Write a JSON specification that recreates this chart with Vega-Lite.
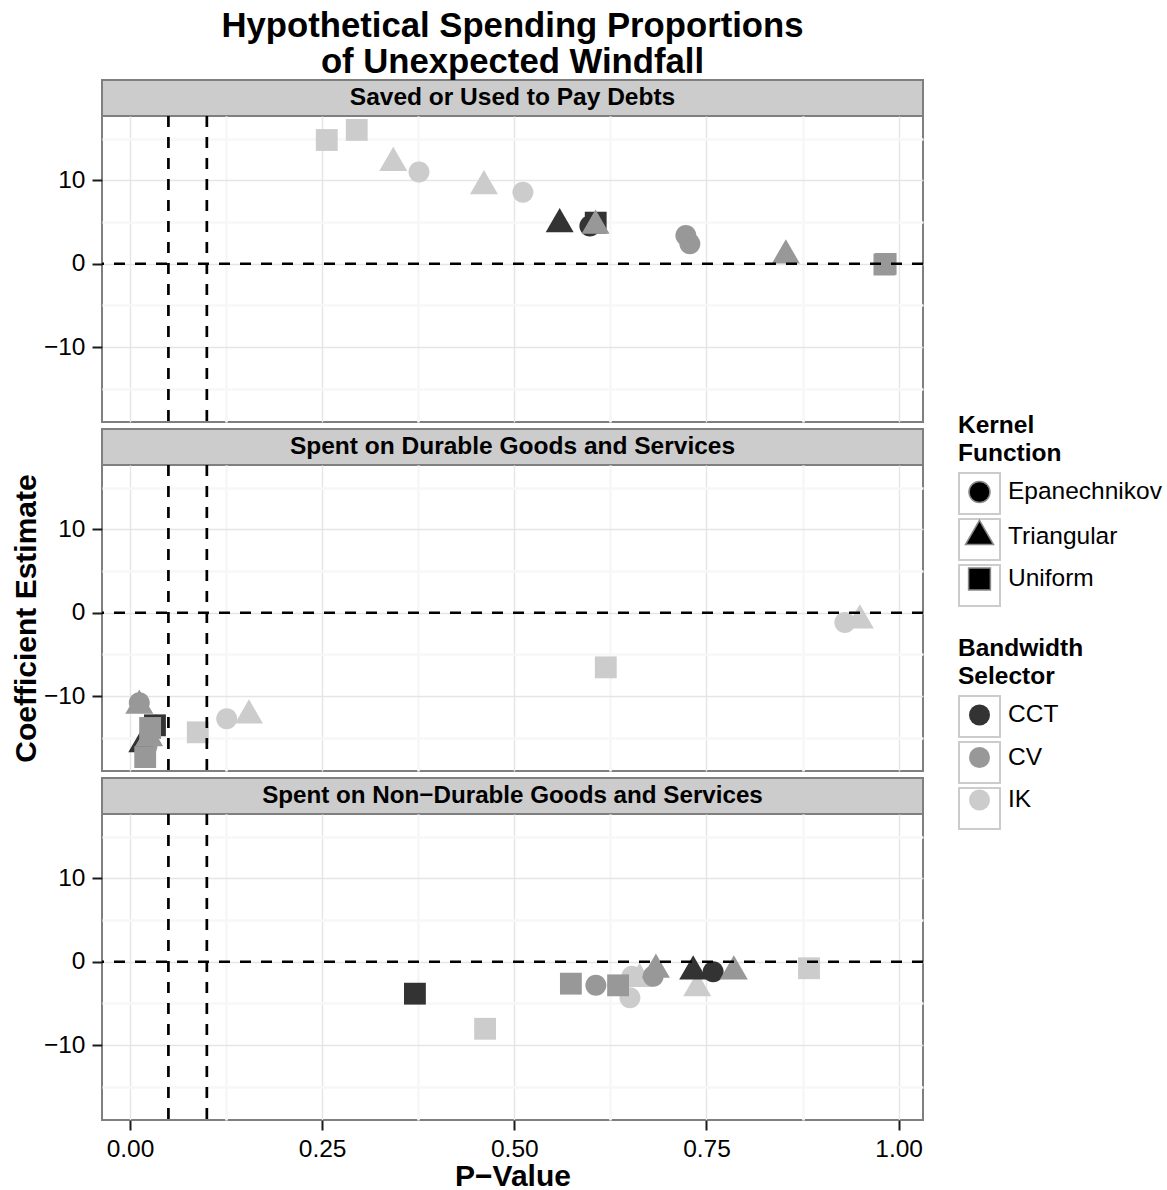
{
  "$schema": "https://vega.github.io/schema/vega-lite/v6.json",
  "background": "white",
  "padding": {"left": 10, "top": 8, "right": 5, "bottom": 5},
  "datasets": {
    "outcomes": [
      {"outcome": "Saved or Used to Pay Debts"},
      {"outcome": "Spent on Durable Goods and Services"},
      {"outcome": "Spent on Non−Durable Goods and Services"}
    ],
    "estimates": [
      {"outcome": "Saved or Used to Pay Debts", "bandwidth": "IK", "kernel": "Uniform", "p_value": 0.256, "estimate": 14.84},
      {"outcome": "Saved or Used to Pay Debts", "bandwidth": "IK", "kernel": "Uniform", "p_value": 0.295, "estimate": 16.05},
      {"outcome": "Saved or Used to Pay Debts", "bandwidth": "IK", "kernel": "Triangular", "p_value": 0.3425, "estimate": 12.1},
      {"outcome": "Saved or Used to Pay Debts", "bandwidth": "IK", "kernel": "Epanechnikov", "p_value": 0.376, "estimate": 11.01},
      {"outcome": "Saved or Used to Pay Debts", "bandwidth": "IK", "kernel": "Triangular", "p_value": 0.4605, "estimate": 9.3},
      {"outcome": "Saved or Used to Pay Debts", "bandwidth": "IK", "kernel": "Epanechnikov", "p_value": 0.5112, "estimate": 8.57},
      {"outcome": "Saved or Used to Pay Debts", "bandwidth": "CCT", "kernel": "Triangular", "p_value": 0.559, "estimate": 4.74},
      {"outcome": "Saved or Used to Pay Debts", "bandwidth": "CCT", "kernel": "Epanechnikov", "p_value": 0.5983, "estimate": 4.52},
      {"outcome": "Saved or Used to Pay Debts", "bandwidth": "CCT", "kernel": "Uniform", "p_value": 0.6059, "estimate": 4.93},
      {"outcome": "Saved or Used to Pay Debts", "bandwidth": "CV", "kernel": "Triangular", "p_value": 0.6057, "estimate": 4.58},
      {"outcome": "Saved or Used to Pay Debts", "bandwidth": "CV", "kernel": "Epanechnikov", "p_value": 0.7232, "estimate": 3.4},
      {"outcome": "Saved or Used to Pay Debts", "bandwidth": "CV", "kernel": "Epanechnikov", "p_value": 0.7284, "estimate": 2.4},
      {"outcome": "Saved or Used to Pay Debts", "bandwidth": "CV", "kernel": "Triangular", "p_value": 0.8533, "estimate": 1.01},
      {"outcome": "Saved or Used to Pay Debts", "bandwidth": "CV", "kernel": "Uniform", "p_value": 0.9815, "estimate": -0.1},
      {"outcome": "Saved or Used to Pay Debts", "bandwidth": "CV", "kernel": "Uniform", "p_value": 0.9831, "estimate": -0.02},

      {"outcome": "Spent on Durable Goods and Services", "bandwidth": "CCT", "kernel": "Epanechnikov", "p_value": 0.0325, "estimate": -13.5},
      {"outcome": "Spent on Durable Goods and Services", "bandwidth": "CV", "kernel": "Epanechnikov", "p_value": 0.022, "estimate": -16.0},
      {"outcome": "Spent on Durable Goods and Services", "bandwidth": "CCT", "kernel": "Triangular", "p_value": 0.016, "estimate": -15.76},
      {"outcome": "Spent on Durable Goods and Services", "bandwidth": "CCT", "kernel": "Uniform", "p_value": 0.0325, "estimate": -13.5},
      {"outcome": "Spent on Durable Goods and Services", "bandwidth": "CV", "kernel": "Triangular", "p_value": 0.0121, "estimate": -11.14},
      {"outcome": "Spent on Durable Goods and Services", "bandwidth": "CV", "kernel": "Epanechnikov", "p_value": 0.0121, "estimate": -10.79},
      {"outcome": "Spent on Durable Goods and Services", "bandwidth": "CV", "kernel": "Uniform", "p_value": 0.0262, "estimate": -13.82},
      {"outcome": "Spent on Durable Goods and Services", "bandwidth": "CV", "kernel": "Triangular", "p_value": 0.0249, "estimate": -15.04},
      {"outcome": "Spent on Durable Goods and Services", "bandwidth": "CV", "kernel": "Uniform", "p_value": 0.0198, "estimate": -17.31},
      {"outcome": "Spent on Durable Goods and Services", "bandwidth": "IK", "kernel": "Uniform", "p_value": 0.0882, "estimate": -14.34},
      {"outcome": "Spent on Durable Goods and Services", "bandwidth": "IK", "kernel": "Epanechnikov", "p_value": 0.1258, "estimate": -12.72},
      {"outcome": "Spent on Durable Goods and Services", "bandwidth": "IK", "kernel": "Triangular", "p_value": 0.1548, "estimate": -12.31},
      {"outcome": "Spent on Durable Goods and Services", "bandwidth": "IK", "kernel": "Uniform", "p_value": 0.619, "estimate": -6.55},
      {"outcome": "Spent on Durable Goods and Services", "bandwidth": "IK", "kernel": "Epanechnikov", "p_value": 0.93, "estimate": -1.18},
      {"outcome": "Spent on Durable Goods and Services", "bandwidth": "IK", "kernel": "Triangular", "p_value": 0.9495, "estimate": -0.93},

      {"outcome": "Spent on Non−Durable Goods and Services", "bandwidth": "CCT", "kernel": "Uniform", "p_value": 0.3707, "estimate": -3.83},
      {"outcome": "Spent on Non−Durable Goods and Services", "bandwidth": "IK", "kernel": "Uniform", "p_value": 0.462, "estimate": -8.04},
      {"outcome": "Spent on Non−Durable Goods and Services", "bandwidth": "IK", "kernel": "Triangular", "p_value": 0.663, "estimate": -2.07},
      {"outcome": "Spent on Non−Durable Goods and Services", "bandwidth": "IK", "kernel": "Epanechnikov", "p_value": 0.6504, "estimate": -4.33},
      {"outcome": "Spent on Non−Durable Goods and Services", "bandwidth": "IK", "kernel": "Epanechnikov", "p_value": 0.653, "estimate": -1.73},
      {"outcome": "Spent on Non−Durable Goods and Services", "bandwidth": "IK", "kernel": "Triangular", "p_value": 0.738, "estimate": -3.16},
      {"outcome": "Spent on Non−Durable Goods and Services", "bandwidth": "IK", "kernel": "Uniform", "p_value": 0.8834, "estimate": -0.78},
      {"outcome": "Spent on Non−Durable Goods and Services", "bandwidth": "CV", "kernel": "Uniform", "p_value": 0.5736, "estimate": -2.63},
      {"outcome": "Spent on Non−Durable Goods and Services", "bandwidth": "CV", "kernel": "Epanechnikov", "p_value": 0.6061, "estimate": -2.81},
      {"outcome": "Spent on Non−Durable Goods and Services", "bandwidth": "CV", "kernel": "Uniform", "p_value": 0.635, "estimate": -2.83},
      {"outcome": "Spent on Non−Durable Goods and Services", "bandwidth": "CV", "kernel": "Epanechnikov", "p_value": 0.6807, "estimate": -1.73},
      {"outcome": "Spent on Non−Durable Goods and Services", "bandwidth": "CV", "kernel": "Triangular", "p_value": 0.6842, "estimate": -0.95},
      {"outcome": "Spent on Non−Durable Goods and Services", "bandwidth": "CCT", "kernel": "Triangular", "p_value": 0.7327, "estimate": -1.15},
      {"outcome": "Spent on Non−Durable Goods and Services", "bandwidth": "CCT", "kernel": "Epanechnikov", "p_value": 0.7587, "estimate": -1.2},
      {"outcome": "Spent on Non−Durable Goods and Services", "bandwidth": "CV", "kernel": "Triangular", "p_value": 0.7856, "estimate": -1.15}
    ]
  },
  "spacing": 3,
  "vconcat": [
    {
      "bounds": "flush",
      "spacing": 0,
      "vconcat": [
        {
          "title": {"text": ["Hypothetical Spending Proportions", "of Unexpected Windfall"], "fontSize": 34.7, "fontWeight": "bold", "lineHeight": 36, "anchor": "middle", "offset": -1, "color": "#000"},
          "width": 821, "height": 36,
          "view": {"fill": "#cccccc", "stroke": "#7f7f7f", "strokeWidth": 2},
          "data": {"name": "outcomes"},
          "transform": [{"filter": "datum.outcome === 'Saved or Used to Pay Debts'"}],
          "mark": {"type": "text", "fontSize": 24.5, "fontWeight": "bold", "color": "#000"},
          "encoding": {"text": {"field": "outcome"}}
        },
        {
          "width": 821, "height": 306,
          "view": {"fill": "white", "stroke": "#7f7f7f", "strokeWidth": 2},
          "layer": [
            {
              "data": {"name": "estimates"},
              "transform": [{"filter": "datum.outcome === 'Saved or Used to Pay Debts'"}],
              "mark": {"type": "point", "size": 0, "opacity": 1},
              "encoding": {
                "x": {"field": "p_value", "type": "quantitative"},
                "y": {"field": "estimate", "type": "quantitative"},
                "fill": {"field": "kernel", "type": "nominal",
                  "scale": {"domain": ["Uniform", "Triangular", "Epanechnikov"], "range": ["transparent", "transparent", "transparent"]},
                  "legend": {"title": null, "labelExpr": "''", "orient": "none", "legendX": 856, "legendY": 392,
                    "symbolType": "square", "symbolSize": 1681, "symbolStrokeWidth": 2, "symbolStrokeColor": "#cccccc", "rowPadding": -6,
                    "encoding": {"symbols": {"x": {"value": 21.5}, "y": {"value": 21.5}}}}},
                "stroke": {"field": "bandwidth", "type": "nominal",
                  "scale": {"domain": ["IK", "CV", "CCT"], "range": ["#cccccc", "#cccccc", "#cccccc"]},
                  "legend": {"title": null, "labelExpr": "''", "orient": "none", "legendX": 856, "legendY": 615,
                    "symbolType": "square", "symbolSize": 1681, "symbolStrokeWidth": 2, "symbolFillColor": "transparent", "rowPadding": -6,
                    "encoding": {"symbols": {"x": {"value": 21.5}, "y": {"value": 21.5}}}}}
              }
            },
            {
              "data": {"name": "estimates"},
              "transform": [{"filter": "datum.outcome === 'Saved or Used to Pay Debts'"}],
              "mark": {"type": "point", "filled": true, "opacity": 1, "size": 784, "strokeWidth": 0},
              "encoding": {
                "x": {"field": "p_value", "type": "quantitative",
                  "scale": {"domain": [-0.0364, 1.0317], "nice": false, "zero": false},
                  "axis": {"title": null, "values": [0, 0.125, 0.25, 0.375, 0.5, 0.625, 0.75, 0.875, 1], "labels": false, "ticks": false, "domain": false,
                    "gridColor": {"condition": {"test": "datum.value * 8 % 2 == 1", "value": "#f7f7f7"}, "value": "#e5e5e5"},
                    "gridWidth": {"condition": {"test": "datum.value * 8 % 2 == 1", "value": 2.6}, "value": 1.4}}},
                "y": {"field": "estimate", "type": "quantitative",
                  "scale": {"domain": [-18.98, 17.72], "nice": false, "zero": false},
                  "axis": {"title": null, "values": [-15, -10, -5, 0, 5, 10, 15], "labelExpr": "datum.value % 10 == 0 ? datum.label : ''",
                    "tickOpacity": {"condition": {"test": "datum.value % 10 != 0", "value": 0}, "value": 1},
                    "gridColor": {"condition": {"test": "datum.value % 10 != 0", "value": "#f7f7f7"}, "value": "#e5e5e5"},
                    "gridWidth": {"condition": {"test": "datum.value % 10 != 0", "value": 2.6}, "value": 1.4}}},
                "color": {"field": "bandwidth", "type": "nominal",
                  "scale": {"domain": ["CCT", "CV", "IK"], "range": ["#333333", "#989898", "#cccccc"]},
                  "legend": {"title": ["Bandwidth", "\u00a0Selector"], "orient": "none", "legendX": 856, "legendY": 557, "symbolType": "circle", "symbolSize": 441, "rowPadding": 9.5,
                    "encoding": {"symbols": {"x": {"value": 21.5}, "y": {"value": 21.5}}, "labels": {"x": {"value": 50}, "y": {"value": 21.5}, "baseline": {"value": "middle"}}}}},
                "shape": {"field": "kernel", "type": "nominal",
                  "scale": {"domain": ["Epanechnikov", "Triangular", "Uniform"], "range": ["M0.75,0A0.75,0.75,0,1,1,-0.75,0A0.75,0.75,0,1,1,0.75,0Z", "M0,-1.155L1,0.577L-1,0.577Z", "M-0.78,-0.78L0.78,-0.78L0.78,0.78L-0.78,0.78Z"]},
                  "legend": {"title": ["Kernel", "\u00a0Function"], "orient": "none", "legendX": 856, "legendY": 334, "symbolSize": 784, "symbolFillColor": "#000", "rowPadding": 9.5,
                    "encoding": {"symbols": {"x": {"value": 21.5}, "y": {"value": 21.5}}, "labels": {"x": {"value": 50}, "y": {"value": 21.5}, "baseline": {"value": "middle"}}}}}
              }
            },
            {
              "data": {"values": [{"p_value": 0.05}, {"p_value": 0.1}]},
              "mark": {"type": "rule", "color": "#000", "strokeWidth": 2.7, "strokeDash": [11, 10]},
              "encoding": {"x": {"field": "p_value", "type": "quantitative"}}
            },
            {
              "data": {"values": [{"estimate": 0}]},
              "mark": {"type": "rule", "color": "#000", "strokeWidth": 2.7, "strokeDash": [11, 10]},
              "encoding": {"y": {"field": "estimate", "type": "quantitative"}}
            }
          ]
        }
      ]
    },
    {
      "bounds": "flush",
      "spacing": 0,
      "vconcat": [
        {
          "width": 821, "height": 36,
          "view": {"fill": "#cccccc", "stroke": "#7f7f7f", "strokeWidth": 2},
          "data": {"name": "outcomes"},
          "transform": [{"filter": "datum.outcome === 'Spent on Durable Goods and Services'"}],
          "mark": {"type": "text", "fontSize": 24.5, "fontWeight": "bold", "color": "#000"},
          "encoding": {"text": {"field": "outcome"}}
        },
        {
          "width": 821, "height": 306,
          "view": {"fill": "white", "stroke": "#7f7f7f", "strokeWidth": 2},
          "layer": [
            {
              "data": {"name": "estimates"},
              "transform": [{"filter": "datum.outcome === 'Spent on Durable Goods and Services'"}],
              "mark": {"type": "point", "filled": true, "opacity": 1, "size": 784, "strokeWidth": 0},
              "encoding": {
                "x": {"field": "p_value", "type": "quantitative",
                  "scale": {"domain": [-0.0364, 1.0317], "nice": false, "zero": false},
                  "axis": {"title": null, "values": [0, 0.125, 0.25, 0.375, 0.5, 0.625, 0.75, 0.875, 1], "labels": false, "ticks": false, "domain": false,
                    "gridColor": {"condition": {"test": "datum.value * 8 % 2 == 1", "value": "#f7f7f7"}, "value": "#e5e5e5"},
                    "gridWidth": {"condition": {"test": "datum.value * 8 % 2 == 1", "value": 2.6}, "value": 1.4}}},
                "y": {"field": "estimate", "type": "quantitative",
                  "scale": {"domain": [-18.98, 17.72], "nice": false, "zero": false},
                  "axis": {"title": "Coefficient Estimate", "values": [-15, -10, -5, 0, 5, 10, 15], "labelExpr": "datum.value % 10 == 0 ? datum.label : ''",
                    "tickOpacity": {"condition": {"test": "datum.value % 10 != 0", "value": 0}, "value": 1},
                    "gridColor": {"condition": {"test": "datum.value % 10 != 0", "value": "#f7f7f7"}, "value": "#e5e5e5"},
                    "gridWidth": {"condition": {"test": "datum.value % 10 != 0", "value": 2.6}, "value": 1.4}}},
                "color": {"field": "bandwidth", "type": "nominal",
                  "scale": {"domain": ["CCT", "CV", "IK"], "range": ["#333333", "#989898", "#cccccc"]},
                  "legend": {"title": ["Bandwidth", "\u00a0Selector"], "orient": "none", "legendX": 856, "legendY": 557, "symbolType": "circle", "symbolSize": 441, "rowPadding": 9.5,
                    "encoding": {"symbols": {"x": {"value": 21.5}, "y": {"value": 21.5}}, "labels": {"x": {"value": 50}, "y": {"value": 21.5}, "baseline": {"value": "middle"}}}}},
                "shape": {"field": "kernel", "type": "nominal",
                  "scale": {"domain": ["Epanechnikov", "Triangular", "Uniform"], "range": ["M0.75,0A0.75,0.75,0,1,1,-0.75,0A0.75,0.75,0,1,1,0.75,0Z", "M0,-1.155L1,0.577L-1,0.577Z", "M-0.78,-0.78L0.78,-0.78L0.78,0.78L-0.78,0.78Z"]},
                  "legend": {"title": ["Kernel", "\u00a0Function"], "orient": "none", "legendX": 856, "legendY": 334, "symbolSize": 784, "symbolFillColor": "#000", "rowPadding": 9.5,
                    "encoding": {"symbols": {"x": {"value": 21.5}, "y": {"value": 21.5}}, "labels": {"x": {"value": 50}, "y": {"value": 21.5}, "baseline": {"value": "middle"}}}}}
              }
            },
            {
              "data": {"values": [{"p_value": 0.05}, {"p_value": 0.1}]},
              "mark": {"type": "rule", "color": "#000", "strokeWidth": 2.7, "strokeDash": [11, 10]},
              "encoding": {"x": {"field": "p_value", "type": "quantitative"}}
            },
            {
              "data": {"values": [{"estimate": 0}]},
              "mark": {"type": "rule", "color": "#000", "strokeWidth": 2.7, "strokeDash": [11, 10]},
              "encoding": {"y": {"field": "estimate", "type": "quantitative"}}
            }
          ]
        }
      ]
    },
    {
      "bounds": "flush",
      "spacing": 0,
      "vconcat": [
        {
          "width": 821, "height": 36,
          "view": {"fill": "#cccccc", "stroke": "#7f7f7f", "strokeWidth": 2},
          "data": {"name": "outcomes"},
          "transform": [{"filter": "datum.outcome === 'Spent on Non−Durable Goods and Services'"}],
          "mark": {"type": "text", "fontSize": 24.2, "fontWeight": "bold", "color": "#000"},
          "encoding": {"text": {"field": "outcome"}}
        },
        {
          "width": 821, "height": 306,
          "view": {"fill": "white", "stroke": "#7f7f7f", "strokeWidth": 2},
          "layer": [
            {
              "data": {"name": "estimates"},
              "transform": [{"filter": "datum.outcome === 'Spent on Non−Durable Goods and Services'"}],
              "mark": {"type": "point", "filled": true, "opacity": 1, "size": 784, "strokeWidth": 0},
              "encoding": {
                "x": {"field": "p_value", "type": "quantitative",
                  "scale": {"domain": [-0.0364, 1.0317], "nice": false, "zero": false},
                  "axis": {"title": "P−Value", "titlePadding": 1, "format": ".2f", "values": [0, 0.125, 0.25, 0.375, 0.5, 0.625, 0.75, 0.875, 1],
                    "labelExpr": "datum.value * 8 % 2 == 1 ? '' : datum.label",
                    "tickOpacity": {"condition": {"test": "datum.value * 8 % 2 == 1", "value": 0}, "value": 1},
                    "gridColor": {"condition": {"test": "datum.value * 8 % 2 == 1", "value": "#f7f7f7"}, "value": "#e5e5e5"},
                    "gridWidth": {"condition": {"test": "datum.value * 8 % 2 == 1", "value": 2.6}, "value": 1.4}}},
                "y": {"field": "estimate", "type": "quantitative",
                  "scale": {"domain": [-18.98, 17.72], "nice": false, "zero": false},
                  "axis": {"title": null, "values": [-15, -10, -5, 0, 5, 10, 15], "labelExpr": "datum.value % 10 == 0 ? datum.label : ''",
                    "tickOpacity": {"condition": {"test": "datum.value % 10 != 0", "value": 0}, "value": 1},
                    "gridColor": {"condition": {"test": "datum.value % 10 != 0", "value": "#f7f7f7"}, "value": "#e5e5e5"},
                    "gridWidth": {"condition": {"test": "datum.value % 10 != 0", "value": 2.6}, "value": 1.4}}},
                "color": {"field": "bandwidth", "type": "nominal",
                  "scale": {"domain": ["CCT", "CV", "IK"], "range": ["#333333", "#989898", "#cccccc"]},
                  "legend": {"title": ["Bandwidth", "\u00a0Selector"], "orient": "none", "legendX": 856, "legendY": 557, "symbolType": "circle", "symbolSize": 441, "rowPadding": 9.5,
                    "encoding": {"symbols": {"x": {"value": 21.5}, "y": {"value": 21.5}}, "labels": {"x": {"value": 50}, "y": {"value": 21.5}, "baseline": {"value": "middle"}}}}},
                "shape": {"field": "kernel", "type": "nominal",
                  "scale": {"domain": ["Epanechnikov", "Triangular", "Uniform"], "range": ["M0.75,0A0.75,0.75,0,1,1,-0.75,0A0.75,0.75,0,1,1,0.75,0Z", "M0,-1.155L1,0.577L-1,0.577Z", "M-0.78,-0.78L0.78,-0.78L0.78,0.78L-0.78,0.78Z"]},
                  "legend": {"title": ["Kernel", "\u00a0Function"], "orient": "none", "legendX": 856, "legendY": 334, "symbolSize": 784, "symbolFillColor": "#000", "rowPadding": 9.5,
                    "encoding": {"symbols": {"x": {"value": 21.5}, "y": {"value": 21.5}}, "labels": {"x": {"value": 50}, "y": {"value": 21.5}, "baseline": {"value": "middle"}}}}}
              }
            },
            {
              "data": {"values": [{"p_value": 0.05}, {"p_value": 0.1}]},
              "mark": {"type": "rule", "color": "#000", "strokeWidth": 2.7, "strokeDash": [11, 10]},
              "encoding": {"x": {"field": "p_value", "type": "quantitative"}}
            },
            {
              "data": {"values": [{"estimate": 0}]},
              "mark": {"type": "rule", "color": "#000", "strokeWidth": 2.7, "strokeDash": [11, 10]},
              "encoding": {"y": {"field": "estimate", "type": "quantitative"}}
            }
          ]
        }
      ]
    }
  ],
  "config": {
    "font": "Liberation Sans",
    "axis": {
      "labelFont": "Liberation Sans", "labelFontSize": 24.5, "labelColor": "#000",
      "tickColor": "#1a1a1a", "tickWidth": 2, "tickSize": 10, "labelPadding": 7,
      "domain": false, "grid": true,
      "titleFont": "Liberation Sans", "titleFontSize": 30, "titleFontWeight": "bold", "titleColor": "#000", "titlePadding": 2
    },
    "legend": {
      "labelFont": "Liberation Sans", "labelFontSize": 24.5, "labelColor": "#000", "labelLimit": 300,
      "titleFont": "Liberation Sans", "titleFontSize": 24.5, "titleFontWeight": "bold", "titleColor": "#000", "titleLineHeight": 28, "titlePadding": 4
    }
  }
}
